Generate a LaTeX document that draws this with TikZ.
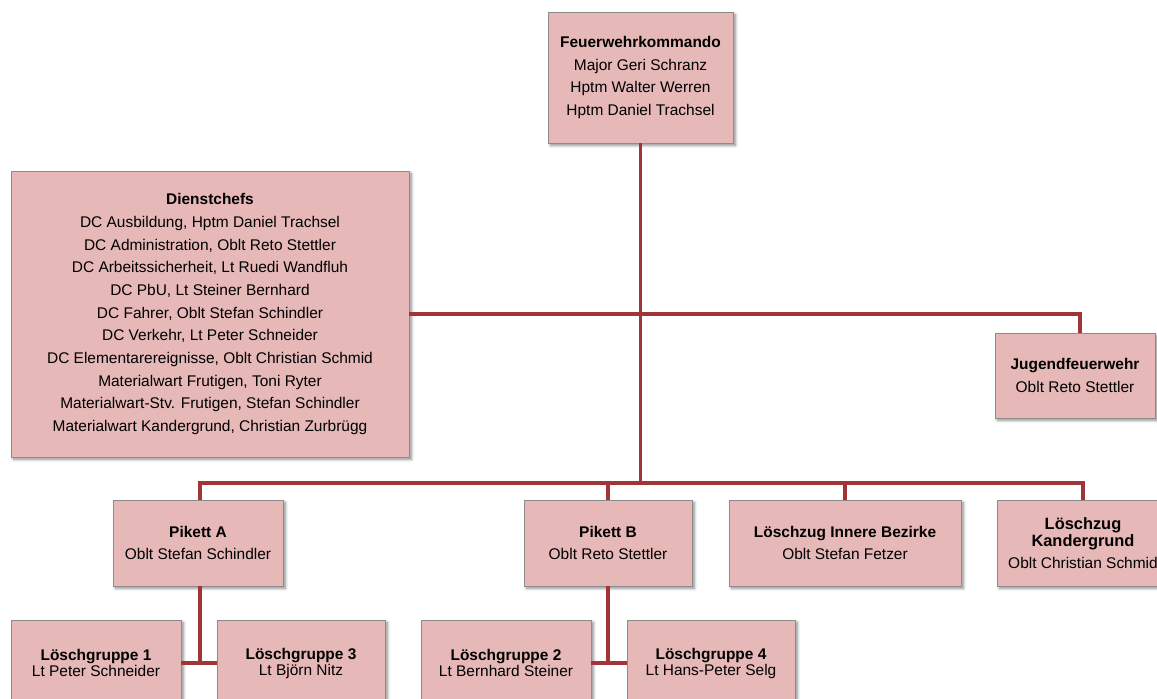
\documentclass[tikz,border=0pt]{standalone}
\usepackage{fontspec}
\setmainfont{Liberation Sans}
\usetikzlibrary{shadows.blur,calc}
\definecolor{boxfill}{RGB}{230,184,183}
\definecolor{boxline}{RGB}{140,140,140}
\definecolor{conn}{RGB}{160,52,55}
\begin{document}
\begin{tikzpicture}[x=0.75pt,y=-0.75pt,
  orgbox/.style={draw=boxline,line width=0.6pt,fill=boxfill,rectangle,align=center,
    inner sep=0pt,font=\fontsize{11.6}{17}\selectfont,text=black,
    blur shadow={shadow xshift=1.8pt,shadow yshift=-1.8pt,shadow blur steps=5,shadow opacity=45}},
  link/.style={draw=conn,line width=2.3pt}]
\useasboundingbox (0,0) rectangle (1157,699);
\clip (0,0) rectangle (1157,699);
% boxes
\node[orgbox,minimum width=185*0.75pt,minimum height=131*0.75pt] (kdo) at (640.5,77.5)
  {\textbf{Feuerwehrkommando}\\Major Geri Schranz\\Hptm Walter Werren\\Hptm Daniel Trachsel};
\node[orgbox,minimum width=398*0.75pt,minimum height=286*0.75pt] (dc) at (210,314)
  {\textbf{Dienstchefs}\\DC Ausbildung, Hptm Daniel Trachsel\\DC Administration, Oblt Reto Stettler\\DC Arbeitssicherheit, Lt Ruedi Wandfluh\\DC PbU, Lt Steiner Bernhard\\DC Fahrer, Oblt Stefan Schindler\\DC Verkehr, Lt Peter Schneider\\DC Elementarereignisse, Oblt Christian Schmid\\Materialwart Frutigen, Toni Ryter\\Materialwart-Stv. Frutigen, Stefan Schindler\\Materialwart Kandergrund, Christian Zurbrügg};
\node[orgbox,minimum width=160*0.75pt,minimum height=85*0.75pt] (jf) at (1075,375.5)
  {\textbf{Jugendfeuerwehr}\\Oblt Reto Stettler};
\node[orgbox,minimum width=170*0.75pt,minimum height=86*0.75pt] (pa) at (198,543)
  {\textbf{Pikett A}\\Oblt Stefan Schindler};
\node[orgbox,minimum width=168*0.75pt,minimum height=86*0.75pt] (pb) at (608,543)
  {\textbf{Pikett B}\\Oblt Reto Stettler};
\node[orgbox,minimum width=232*0.75pt,minimum height=86*0.75pt] (lib) at (845,543)
  {\textbf{Löschzug Innere Bezirke}\\Oblt Stefan Fetzer};
\node[orgbox,minimum width=172*0.75pt,minimum height=86*0.75pt] (lkg) at (1083,543)
  {\textbf{\fontsize{12.3}{13}\selectfont Löschzug}\\[-4pt]\textbf{\fontsize{12.3}{13}\selectfont Kandergrund}\\[-1pt]Oblt Christian Schmid};
\node[orgbox,minimum width=170*0.75pt,minimum height=86*0.75pt] (lg1) at (96,663)
  {\textbf{Löschgruppe 1}\\[-5pt]Lt Peter Schneider};
\node[orgbox,minimum width=168*0.75pt,minimum height=86*0.75pt] (lg3) at (301,663)
  {\textbf{Löschgruppe 3}\\[-5pt]Lt Björn Nitz};
\node[orgbox,minimum width=170*0.75pt,minimum height=86*0.75pt] (lg2) at (506,663)
  {\textbf{Löschgruppe 2}\\[-5pt]Lt Bernhard Steiner};
\node[orgbox,minimum width=168*0.75pt,minimum height=86*0.75pt] (lg4) at (711,663)
  {\textbf{Löschgruppe 4}\\[-5pt]Lt Hans-Peter Selg};
% helper coordinates
\coordinate (bus) at (641,483);
\coordinate (jt) at (1080,333);
\coordinate (pat) at (200,500);
\coordinate (pas) at (200,586);
% connectors
\draw[link] (kdo.south) -- (kdo.south |- bus);
\draw[link] (dc.east) -| (jt);
\draw[link] (pat) -- (pat |- bus) -- (lkg.north |- bus) -- (lkg.north);
\draw[link] (pb.north) -- (pb.north |- bus);
\draw[link] (lib.north) -- (lib.north |- bus);
\draw[link] (pas) -- (pas |- lg1.east);
\draw[link] (lg1.east) -- (lg3.west);
\draw[link] (pb.south) -- (pb.south |- lg2.east);
\draw[link] (lg2.east) -- (lg4.west);
\end{tikzpicture}
\end{document}
